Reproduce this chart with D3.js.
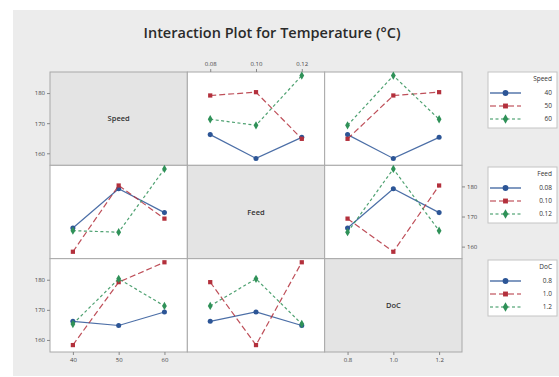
<!DOCTYPE html>
<html><head><meta charset="utf-8">
<script src="https://cdn.jsdelivr.net/npm/d3@7"></script>
<style>body{margin:0;background:#fff}svg{display:block}</style></head>
<body>
<svg id="c" width="559" height="377"></svg>
<script>
// ---- data (L9 design, Temperature response) ----
const factorNames = ["Speed", "Feed", "DoC"];
const speedLevels = ["40", "50", "60"];
const feedLevels = ["0.08", "0.10", "0.12"];
const docLevels = ["0.8", "1.0", "1.2"];
const runSpeed = ["40", "40", "40", "50", "50", "50", "60", "60", "60"];
const runFeed = ["0.08", "0.10", "0.12", "0.08", "0.10", "0.12", "0.08", "0.10", "0.12"];
const runDoC = ["0.8", "1.0", "1.2", "1.0", "1.2", "0.8", "1.2", "0.8", "1.0"];
const temperature = [166.2, 158.3, 165.3, 179.2, 180.3, 164.8, 171.3, 169.3, 185.8];
const yTicks = [160, 170, 180];

const levels = [speedLevels, feedLevels, docLevels];
const runs = [runSpeed, runFeed, runDoC];

// ---- layout ----
const svg = d3.select("#c");
const gx0 = 50, gx1 = 462, gy0 = 72, gy1 = 352;
const cw = (gx1 - gx0) / 3, ch = (gy1 - gy0) / 3;
const colors = ["#2c5596", "#b3303c", "#2f9158"];
const dashes = [null, "6,3", "3,2.5"];
const symbols = [d3.symbolCircle, d3.symbolSquare, d3.symbolDiamond];
const symSizes = [20, 18, 20];
const tickFont = "Open Sans, sans-serif";

svg.append("rect").attr("x", 13).attr("y", 10).attr("width", 546).attr("height", 366).attr("fill", "#ececec");

svg.append("text").attr("x", 272).attr("y", 38).attr("text-anchor", "middle")
  .attr("font-family", "Open Sans, sans-serif").attr("font-size", 14.5).attr("font-weight", 600)
  .attr("fill", "#2a2a2a").text("Interaction Plot for Temperature (°C)");

const yDomain = [156, 187];

for (let r = 0; r < 3; r++) {
  const top = gy0 + r * ch;
  const y = d3.scaleLinear().domain(yDomain).range([top + ch, top]);
  for (let c = 0; c < 3; c++) {
    const left = gx0 + c * cw;
    const g = svg.append("g");
    if (r === c) {
      g.append("rect").attr("x", left).attr("y", top).attr("width", cw).attr("height", ch)
        .attr("fill", "#e4e4e4").attr("stroke", "#a8a8a8").attr("stroke-width", 1);
      g.append("text").attr("x", left + cw / 2).attr("y", top + ch / 2 + 2.5).attr("text-anchor", "middle")
        .attr("font-family", tickFont).attr("font-size", 7.5).attr("font-weight", 600).attr("fill", "#333")
        .text(factorNames[r]);
      continue;
    }
    g.append("rect").attr("x", left).attr("y", top).attr("width", cw).attr("height", ch)
      .attr("fill", "#ffffff").attr("stroke", "#a8a8a8").attr("stroke-width", 1);
    const x = d3.scalePoint().domain(levels[c]).range([left, left + cw]).padding(0.5);
    // lines: one per level of row factor
    levels[r].forEach((lv, k) => {
      const pts = levels[c].map(xv => {
        const vals = temperature.filter((t, i) => runs[r][i] === lv && runs[c][i] === xv);
        return [xv, d3.mean(vals)];
      }).filter(p => p[1] !== undefined);
      g.append("path").datum(pts)
        .attr("d", d3.line().x(p => x(p[0])).y(p => y(p[1])))
        .attr("fill", "none").attr("stroke", colors[k]).attr("stroke-width", 1.2)
        .attr("stroke-dasharray", dashes[k]).attr("opacity", 0.85);
      g.selectAll(null).data(pts).enter().append("path")
        .attr("transform", p => `translate(${x(p[0])},${y(p[1])})`)
        .attr("d", d3.symbol().type(symbols[k]).size(symSizes[k]))
        .attr("fill", colors[k]);
    });
  }
  // row y axes
  const axis = (r === 1 ? d3.axisRight(y) : d3.axisLeft(y)).tickValues(yTicks).tickSize(3).tickPadding(2);
  const ag = svg.append("g").attr("transform", `translate(${r === 1 ? gx1 : gx0},0)`).call(axis);
  ag.select(".domain").remove();
  ag.selectAll("line").attr("stroke", "#888");
  ag.selectAll("text").attr("font-family", tickFont).attr("font-size", 6).attr("fill", "#444");
}

// column x axes
for (let c = 0; c < 3; c++) {
  const left = gx0 + c * cw;
  const x = d3.scalePoint().domain(levels[c]).range([left, left + cw]).padding(0.5);
  const isTop = c === 1;
  const axis = (isTop ? d3.axisTop(x) : d3.axisBottom(x)).tickSize(3).tickPadding(3);
  const ag = svg.append("g").attr("transform", `translate(0,${isTop ? gy0 : gy1})`).call(axis);
  ag.select(".domain").remove();
  ag.selectAll("line").attr("stroke", "#888");
  ag.selectAll("text").attr("font-family", tickFont).attr("font-size", 6).attr("fill", "#444");
}

// legends
const legendTops = [72, 167, 260];
legendTops.forEach((lt, r) => {
  const g = svg.append("g");
  g.append("rect").attr("x", 488).attr("y", lt).attr("width", 69).attr("height", 56)
    .attr("fill", "#fff").attr("stroke", "#c4c4c4");
  g.append("text").attr("x", 552).attr("y", lt + 9).attr("text-anchor", "end")
    .attr("font-family", tickFont).attr("font-size", 6.5).attr("fill", "#333").text(factorNames[r]);
  levels[r].forEach((lv, k) => {
    const yy = lt + 21 + k * 13;
    g.append("line").attr("x1", 490).attr("x2", 521).attr("y1", yy).attr("y2", yy)
      .attr("stroke", colors[k]).attr("stroke-width", 1.2).attr("stroke-dasharray", dashes[k]);
    g.append("path").attr("transform", `translate(505.5,${yy})`)
      .attr("d", d3.symbol().type(symbols[k]).size(symSizes[k] + 6)).attr("fill", colors[k]);
    g.append("text").attr("x", 552).attr("y", yy + 2.2).attr("text-anchor", "end")
      .attr("font-family", tickFont).attr("font-size", 6.5).attr("fill", "#333").text(lv);
  });
});
</script>
</body></html>
